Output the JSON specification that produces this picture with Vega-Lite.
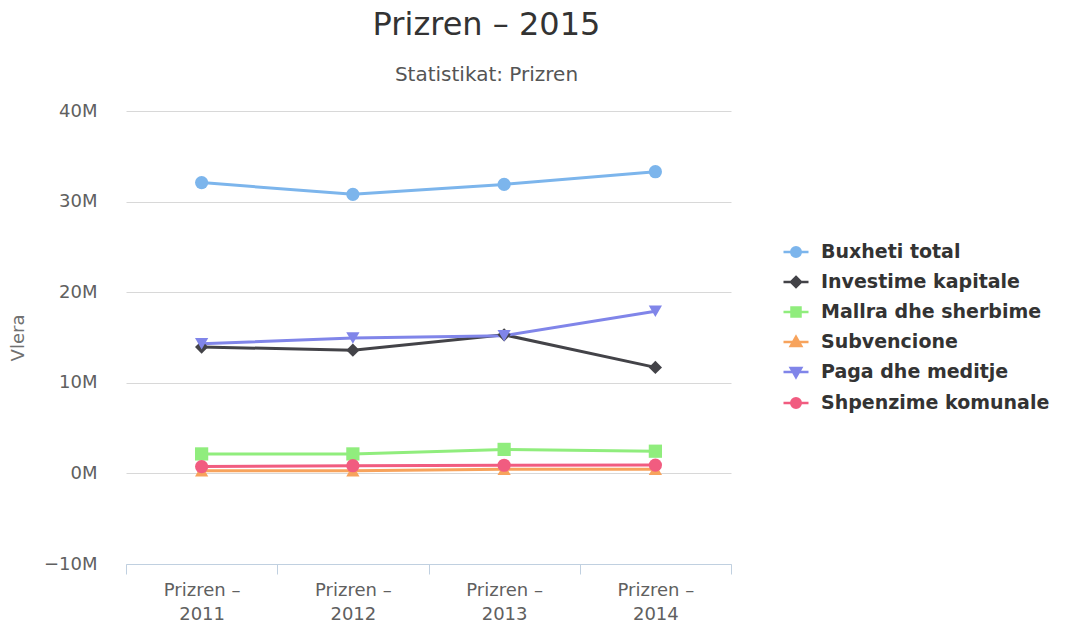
{
  "$schema": "https://vega.github.io/schema/vega-lite/v6.json",
  "autosize": "none",
  "width": 605,
  "height": 453,
  "padding": {"left": 126, "top": 111, "right": 334, "bottom": 59},
  "background": "white",
  "config": {"view": {"stroke": null}},
  "title": {
    "text": "Prizren – 2015",
    "subtitle": "Statistikat: Prizren",
    "anchor": "middle",
    "frame": "group",
    "dx": 58,
    "offset": 16,
    "font": "DejaVu Sans",
    "fontSize": 32,
    "fontWeight": "normal",
    "color": "#333333",
    "subtitleFont": "DejaVu Sans",
    "subtitleFontSize": 20,
    "subtitleColor": "#555555",
    "subtitlePadding": 23
  },
  "data": {
    "values": [
      {"kategoria": "Prizren – 2011", "seria": "Buxheti total", "vlera": 32100000},
      {"kategoria": "Prizren – 2012", "seria": "Buxheti total", "vlera": 30800000},
      {"kategoria": "Prizren – 2013", "seria": "Buxheti total", "vlera": 31900000},
      {"kategoria": "Prizren – 2014", "seria": "Buxheti total", "vlera": 33300000},
      {"kategoria": "Prizren – 2011", "seria": "Investime kapitale", "vlera": 13950000},
      {"kategoria": "Prizren – 2012", "seria": "Investime kapitale", "vlera": 13600000},
      {"kategoria": "Prizren – 2013", "seria": "Investime kapitale", "vlera": 15300000},
      {"kategoria": "Prizren – 2014", "seria": "Investime kapitale", "vlera": 11700000},
      {"kategoria": "Prizren – 2011", "seria": "Mallra dhe sherbime", "vlera": 2150000},
      {"kategoria": "Prizren – 2012", "seria": "Mallra dhe sherbime", "vlera": 2150000},
      {"kategoria": "Prizren – 2013", "seria": "Mallra dhe sherbime", "vlera": 2650000},
      {"kategoria": "Prizren – 2014", "seria": "Mallra dhe sherbime", "vlera": 2450000},
      {"kategoria": "Prizren – 2011", "seria": "Subvencione", "vlera": 300000},
      {"kategoria": "Prizren – 2012", "seria": "Subvencione", "vlera": 300000},
      {"kategoria": "Prizren – 2013", "seria": "Subvencione", "vlera": 450000},
      {"kategoria": "Prizren – 2014", "seria": "Subvencione", "vlera": 450000},
      {"kategoria": "Prizren – 2011", "seria": "Paga dhe meditje", "vlera": 14300000},
      {"kategoria": "Prizren – 2012", "seria": "Paga dhe meditje", "vlera": 14950000},
      {"kategoria": "Prizren – 2013", "seria": "Paga dhe meditje", "vlera": 15200000},
      {"kategoria": "Prizren – 2014", "seria": "Paga dhe meditje", "vlera": 17900000},
      {"kategoria": "Prizren – 2011", "seria": "Shpenzime komunale", "vlera": 750000},
      {"kategoria": "Prizren – 2012", "seria": "Shpenzime komunale", "vlera": 850000},
      {"kategoria": "Prizren – 2013", "seria": "Shpenzime komunale", "vlera": 900000},
      {"kategoria": "Prizren – 2014", "seria": "Shpenzime komunale", "vlera": 920000}
    ]
  },
  "encoding": {
    "x": {
      "field": "kategoria",
      "type": "nominal",
      "sort": null,
      "scale": {"type": "band", "paddingInner": 0, "paddingOuter": 0},
      "axis": {
        "title": null,
        "labelAngle": 0,
        "tickBand": "extent",
        "tickSize": 10,
        "tickColor": "#c0d0e0",
        "domainColor": "#c0d0e0",
        "labelFont": "DejaVu Sans",
        "labelFontSize": 18,
        "labelColor": "#606060",
        "labelPadding": 7,
        "labelLineHeight": 24,
        "labelExpr": "datum.label ? ['Prizren –', slice(datum.label, 10)] : ''",
        "grid": false
      }
    },
    "y": {
      "field": "vlera",
      "type": "quantitative",
      "scale": {"domain": [-10000000, 40000000], "nice": false, "zero": false},
      "axis": {
        "title": "Vlera",
        "titleFont": "DejaVu Sans",
        "titleFontSize": 18,
        "titleFontWeight": "normal",
        "titleColor": "#707070",
        "titlePadding": 16,
        "values": [-10000000, 0, 10000000, 20000000, 30000000, 40000000],
        "labelExpr": "format(datum.value/1000000,'d')+'M'",
        "labelFont": "DejaVu Sans",
        "labelFontSize": 18,
        "labelColor": "#606060",
        "labelPadding": 29,
        "ticks": false,
        "domain": false,
        "grid": true,
        "gridColor": "#d8d8d8",
        "gridWidth": 1
      }
    },
    "color": {
      "field": "seria",
      "type": "nominal",
      "scale": {
        "domain": ["Buxheti total", "Investime kapitale", "Mallra dhe sherbime", "Subvencione", "Paga dhe meditje", "Shpenzime komunale"],
        "range": ["#7cb5ec", "#434348", "#90ed7d", "#f7a35c", "#8085e9", "#f15c80"]
      },
      "legend": {
        "title": null,
        "orient": "none",
        "legendX": 656,
        "legendY": 127,
        "labelFont": "DejaVu Sans",
        "labelFontSize": 19,
        "labelFontWeight": "bold",
        "labelColor": "#333333",
        "labelOffset": 11,
        "labelLimit": 400,
        "symbolSize": 625,
        "symbolStrokeWidth": 2.5,
        "symbolOpacity": 1,
        "rowPadding": 6,
        "encode": {
          "symbols": {
            "update": {
              "shape": {"signal": "datum.value === 'Investime kapitale' ? 'M-1,0H1M0,-0.4L0.4,0L0,0.4L-0.4,0Z' : datum.value === 'Mallra dhe sherbime' ? 'M-1,0H1M-0.36,-0.36H0.36V0.36H-0.36Z' : datum.value === 'Subvencione' ? 'M-1,0H1M0,-0.42L0.42,0.32L-0.42,0.32Z' : datum.value === 'Paga dhe meditje' ? 'M-1,0H1M0,0.42L0.42,-0.32L-0.42,-0.32Z' : 'M-1,0H1M0.38,0A0.38,0.38,0,1,1,-0.38,0A0.38,0.38,0,1,1,0.38,0Z'"},
              "fill": {"scale": "color", "field": "value"},
              "stroke": {"scale": "color", "field": "value"},
              "fillOpacity": {"value": 1},
              "strokeOpacity": {"value": 1}
            }
          }
        }
      }
    }
  },
  "layer": [
    {
      "mark": {"type": "line", "strokeWidth": 3}
    },
    {
      "mark": {"type": "point", "filled": true, "opacity": 1, "size": 175},
      "encoding": {
        "shape": {
          "field": "seria",
          "type": "nominal",
          "scale": {
            "domain": ["Shpenzime komunale", "Paga dhe meditje", "Subvencione", "Mallra dhe sherbime", "Investime kapitale", "Buxheti total"],
            "range": ["circle", "triangle-down", "triangle-up", "square", "diamond", "circle"]
          },
          "legend": null
        }
      }
    }
  ]
}
